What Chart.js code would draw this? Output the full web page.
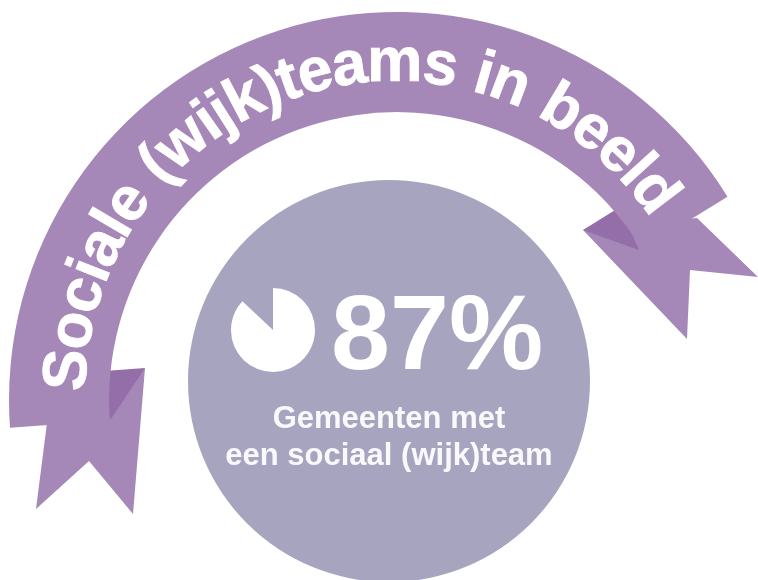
<!DOCTYPE html>
<html lang="nl">
<head>
<meta charset="utf-8">
<title>Sociale (wijk)teams in beeld</title>
<script src="https://cdn.jsdelivr.net/npm/chart.js@4"></script>
<style>
html, body { margin: 0; padding: 0; width: 758px; height: 580px; overflow: hidden; background: #fff; }
canvas, svg { position: absolute; }
svg { left: 0; top: 0; }
#ribbon { left: -3px; top: 0; }
#disc { left: 184px; top: 176px; }
#pie { left: 229px; top: 286px; }
text { font-family: "Liberation Sans", Arial, sans-serif; font-weight: bold; fill: #fff; }
</style>
</head>
<body>
<!-- ribbon tails sit behind the arc -->
<svg width="758" height="580">
  <polygon fill="#A588B8" points="48,415 36,509 89,461 133,514 145,368 111,400"/>
  <polygon fill="#936EA8" points="105,371 145,368 111,419 105,419"/>
  <polygon fill="#A588B8" points="583,230 687,339 690,270 758,277 697,218"/>
  <polygon fill="#936EA8" points="583,230 620,207 639,250"/>
</svg>
<canvas id="ribbon" width="800" height="800"></canvas>
<canvas id="disc" width="410" height="410"></canvas>
<canvas id="pie" width="88" height="88"></canvas>
<svg width="758" height="580">
  <defs>
    <path id="titleArc" d="M 85 396 A 310 315 0 0 1 705 396"/>
  </defs>
  <text font-size="62" letter-spacing="-1.5" word-spacing="2" stroke="#fff" stroke-width="0.8"><textPath href="#titleArc" startOffset="4" id="titleText"></textPath></text>
  <text id="bigValue" x="331" y="369" font-size="106"></text>
  <text id="line1" x="389" y="428" font-size="31" text-anchor="middle" fill-opacity="0.93"></text>
  <text id="line2" x="389" y="465" font-size="31" text-anchor="middle" fill-opacity="0.93"></text>
</svg>
<script>
'use strict';
var titleLabel = 'Sociale (wijk)teams in beeld';
var captionLines = ['Gemeenten met', 'een sociaal (wijk)team'];

var pieLabels = ['Met sociaal (wijk)team', 'Zonder'];
var pieValues = [87, 13];

// ribbon arc and background disc are single filled rings
var ribbonValues = [152.5, 207.5];
var discValues = [100];

document.getElementById('titleText').textContent = titleLabel;
document.getElementById('bigValue').textContent = pieValues[0] + '%';
document.getElementById('line1').textContent = captionLines[0];
document.getElementById('line2').textContent = captionLines[1];

function ringOptions(extra) {
    var opts = {
        responsive: false,
        animation: false,
        devicePixelRatio: 1,
        layout: { padding: 0 },
        plugins: { legend: { display: false }, tooltip: { enabled: false } }
    };
    return Object.assign(opts, extra);
}

new Chart(document.getElementById('ribbon'), {
    type: 'doughnut',
    data: {
        labels: ['Lint', ''],
        datasets: [{ data: ribbonValues, backgroundColor: ['#A588B8', 'rgba(0,0,0,0)'], borderWidth: 0 }]
    },
    options: ringOptions({ rotation: -94.1, radius: 388, cutout: '74.2%' })
});

new Chart(document.getElementById('disc'), {
    type: 'pie',
    data: {
        labels: ['Achtergrond'],
        datasets: [{ data: discValues, backgroundColor: ['#A7A4BF'], borderWidth: 0 }]
    },
    options: ringOptions({ radius: 201 })
});

new Chart(document.getElementById('pie'), {
    type: 'pie',
    data: {
        labels: pieLabels,
        datasets: [{ data: pieValues, backgroundColor: ['#FFFFFF', 'rgba(0,0,0,0)'], borderWidth: 0 }]
    },
    options: ringOptions({ radius: 42 })
});
</script>
</body>
</html>
